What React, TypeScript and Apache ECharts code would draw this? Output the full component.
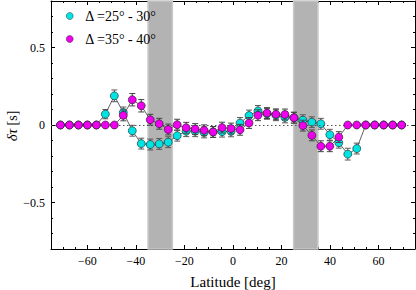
import React, { useEffect, useRef } from "react";
import * as echarts from "echarts";

const latitudes = [
  -71.1, -67.4, -63.7, -60.0, -56.3, -52.6, -48.9, -45.2, -41.5, -37.8,
  -34.1, -30.4, -26.7, -23.0, -19.3, -15.6, -11.9, -8.2, -4.5, -0.8,
  2.9, 6.6, 10.3, 14.0, 17.7, 21.4, 25.1, 28.8, 32.5, 36.2,
  39.9, 43.6, 47.3, 51.0, 54.7, 58.4, 62.1, 65.8, 69.5,
];

const cyanValues = [
  0, 0, 0, 0, 0, 0.07, 0.188, 0.081, -0.037, -0.12,
  -0.126, -0.122, -0.111, -0.069, -0.04, -0.04, -0.048, -0.045, -0.043, -0.041,
  0.013, 0.061, 0.091, 0.072, 0.063, 0.049, 0.047, 0.031, 0.018, 0.008,
  -0.063, -0.114, -0.188, -0.152, 0, 0, 0, 0, 0,
];
const cyanErrors = [
  0, 0, 0, 0, 0, 0.03, 0.038, 0.035, 0.035, 0.035,
  0.035, 0.035, 0.035, 0.035, 0.035, 0.035, 0.035, 0.035, 0.035, 0.035,
  0.035, 0.035, 0.035, 0.035, 0.035, 0.035, 0.035, 0.035, 0.035, 0.035,
  0.035, 0.035, 0.038, 0.035, 0, 0, 0, 0, 0,
];

const magentaValues = [
  0, 0, 0, 0, 0, 0, 0, 0.062, 0.163, 0.124,
  0.034, 0.008, -0.029, 0.002, -0.018, -0.026, -0.034, -0.045, -0.017, -0.023,
  -0.031, 0.013, 0.063, 0.077, 0.069, 0.068, 0.047, -0.004, -0.067, -0.137,
  -0.137, -0.078, 0, 0, 0, 0, 0, 0, 0,
];
const magentaErrors = [
  0, 0, 0, 0, 0, 0, 0, 0.035, 0.04, 0.04,
  0.035, 0.035, 0.035, 0.035, 0.035, 0.035, 0.035, 0.035, 0.035, 0.035,
  0.035, 0.035, 0.035, 0.035, 0.035, 0.035, 0.035, 0.035, 0.035, 0.035,
  0.035, 0.035, 0, 0, 0, 0, 0, 0, 0,
];

const seriesNames = ["Δ =25° - 30°", "Δ =35° - 40°"];
const bands = [
  [-35, -25],
  [25, 35],
];
const xMajorTicks = [-60, -40, -20, 0, 20, 40, 60];
const yMajorTicks = [-0.5, 0, 0.5];
const yAxisTitle = "{i|δτ} {n|[s]}";

const FONT = "Liberation Serif";

function fmt(v: number): string {
  const r = Math.round(v * 1000) / 1000;
  if (r === 0) return "0";
  const s = String(Math.abs(r));
  return r < 0 ? "\u2212" + s : s;
}

function errorSeries(values: number[], errs: number[], color: string, z: number) {
  return {
    type: "custom",
    z,
    silent: true,
    xAxisIndex: 0,
    yAxisIndex: 0,
    data: latitudes.map((x, i) => [x, values[i], errs[i]]),
    renderItem: (params: any, api: any) => {
      const x = api.value(0);
      const y = api.value(1);
      const e = api.value(2);
      if (!e) return null;
      const top = api.coord([x, y + e]);
      const bot = api.coord([x, y - e]);
      const hw = 3;
      const st = { stroke: color, lineWidth: 1 };
      return {
        type: "group",
        children: [
          { type: "line", shape: { x1: top[0], y1: top[1], x2: bot[0], y2: bot[1] }, style: st },
          { type: "line", shape: { x1: top[0] - hw, y1: top[1], x2: top[0] + hw, y2: top[1] }, style: st },
          { type: "line", shape: { x1: bot[0] - hw, y1: bot[1], x2: bot[0] + hw, y2: bot[1] }, style: st },
        ],
      };
    },
  };
}

export default function App() {
  const ref = useRef<HTMLDivElement>(null);
  useEffect(() => {
    if (!ref.current) return;
    const chart = echarts.init(ref.current, undefined, { renderer: "svg" });
    const gridRect = { left: 51, right: 1, top: 1, bottom: 41, outerBoundsMode: "none", containLabel: false };
    const lineStyleBlack = { color: "#000", width: 1 };
    const minorX = (position: string, gridIndex: number, extra: any = {}) => ({
      type: "value",
      gridIndex,
      position,
      min: -75,
      max: 75,
      interval: 5,
      axisLine: { show: true, onZero: false, lineStyle: lineStyleBlack },
      axisTick: { show: true, inside: true, length: 2, lineStyle: lineStyleBlack },
      axisLabel: { show: false },
      splitLine: { show: false },
      ...extra,
    });
    const majorX = (position: string, gridIndex: number) => ({
      type: "value",
      gridIndex,
      position,
      min: -75,
      max: 75,
      interval: 5,
      axisLine: { show: false, onZero: false },
      axisTick: { show: true, inside: true, length: 4, customValues: xMajorTicks, lineStyle: lineStyleBlack },
      axisLabel: { show: false },
      splitLine: { show: false },
    });
    const minorY = (position: string, gridIndex: number, extra: any = {}) => ({
      type: "value",
      gridIndex,
      position,
      min: -0.8,
      max: 0.8,
      interval: 0.1,
      axisLine: { show: true, onZero: false, lineStyle: lineStyleBlack },
      axisTick: { show: true, inside: true, length: 2, lineStyle: lineStyleBlack },
      axisLabel: { show: false },
      splitLine: { show: false },
      ...extra,
    });
    const majorY = (position: string, gridIndex: number) => ({
      type: "value",
      gridIndex,
      position,
      min: -0.8,
      max: 0.8,
      interval: 0.1,
      axisLine: { show: false, onZero: false },
      axisTick: { show: true, inside: true, length: 4, customValues: yMajorTicks, lineStyle: lineStyleBlack },
      axisLabel: { show: false },
      splitLine: { show: false },
    });

    chart.setOption({
      animation: false,
      backgroundColor: "#fff",
      grid: [{ ...gridRect }, { ...gridRect }],
      legend: {
        data: seriesNames,
        orient: "vertical",
        left: 66,
        top: 9,
        padding: 0,
        icon: "circle",
        itemWidth: 7,
        itemHeight: 7,
        itemGap: 9,
        itemStyle: { borderWidth: 0.5, borderColor: "#333" },
        textStyle: { fontFamily: FONT, fontSize: 14, color: "#000", lineHeight: 14, padding: [0, 0, 0, 7] },
      },
      graphic: [
        {
          type: "text",
          x: 12,
          y: 126,
          rotation: Math.PI / 2,
          silent: true,
          style: {
            text: yAxisTitle,
            align: "center",
            verticalAlign: "middle",
            fontFamily: FONT,
            fontSize: 14,
            fill: "#000",
            rich: {
              i: { fontFamily: FONT, fontSize: 15, fontStyle: "italic", fill: "#000" },
              n: { fontFamily: FONT, fontSize: 14, fill: "#000" },
            },
          },
        },
      ],
      xAxis: [
        minorX("bottom", 0, {
          axisLabel: {
            show: true,
            customValues: xMajorTicks,
            formatter: (v: number) => fmt(v),
            fontFamily: FONT,
            fontSize: 12,
            color: "#000",
            margin: 6,
          },
          name: "Latitude [deg]",
          nameLocation: "middle",
          nameGap: 25,
          nameTextStyle: { fontFamily: FONT, fontSize: 15, color: "#000" },
        }),
        minorX("top", 0),
        majorX("bottom", 1),
        majorX("top", 1),
      ],
      yAxis: [
        minorY("left", 0, {
          axisLabel: {
            show: true,
            customValues: yMajorTicks,
            formatter: (v: number) => fmt(v),
            fontFamily: FONT,
            fontSize: 12,
            color: "#000",
            margin: 6,
          },
        }),
        minorY("right", 0),
        majorY("left", 1),
        majorY("right", 1),
      ],
      series: [
        {
          type: "line",
          name: "zero",
          xAxisIndex: 0,
          yAxisIndex: 0,
          z: 1,
          data: [],
          silent: true,
          markLine: {
            silent: true,
            symbol: "none",
            label: { show: false },
            lineStyle: { color: "#555", width: 1, type: [1.5, 2.5] },
            data: [{ yAxis: 0 }],
          },
        },
        {
          type: "line",
          name: "bands",
          xAxisIndex: 0,
          yAxisIndex: 0,
          z: 2,
          data: [],
          silent: true,
          markArea: {
            silent: true,
            itemStyle: { color: "#b3b3b3", borderColor: "#c8c8c8", borderWidth: 1.5 },
            data: bands.map(([a, b]) => [{ xAxis: a }, { xAxis: b }]),
          },
        },
        errorSeries(cyanValues, cyanErrors, "#5a5a5a", 3),
        {
          type: "line",
          name: seriesNames[0],
          xAxisIndex: 0,
          yAxisIndex: 0,
          z: 4,
          data: latitudes.map((x, i) => [x, cyanValues[i]]),
          symbol: "circle",
          symbolSize: 8,
          showAllSymbol: true,
          lineStyle: { color: "#3a3a3a", width: 0.8 },
          itemStyle: { color: "#00e3e3", borderColor: "#1a1a1a", borderWidth: 0.6 },
        },
        errorSeries(magentaValues, magentaErrors, "#444", 5),
        {
          type: "line",
          name: seriesNames[1],
          xAxisIndex: 0,
          yAxisIndex: 0,
          z: 6,
          data: latitudes.map((x, i) => [x, magentaValues[i]]),
          symbol: "circle",
          symbolSize: 8,
          showAllSymbol: true,
          lineStyle: { color: "#3a3a3a", width: 0.8 },
          itemStyle: { color: "#ee00ee", borderColor: "#1a1a1a", borderWidth: 0.6 },
        },
      ],
    });
    return () => chart.dispose();
  }, []);
  return (
    <div
      ref={ref}
      style={{ position: "fixed", left: 0, top: 0, width: 416, height: 290 }}
    />
  );
}
